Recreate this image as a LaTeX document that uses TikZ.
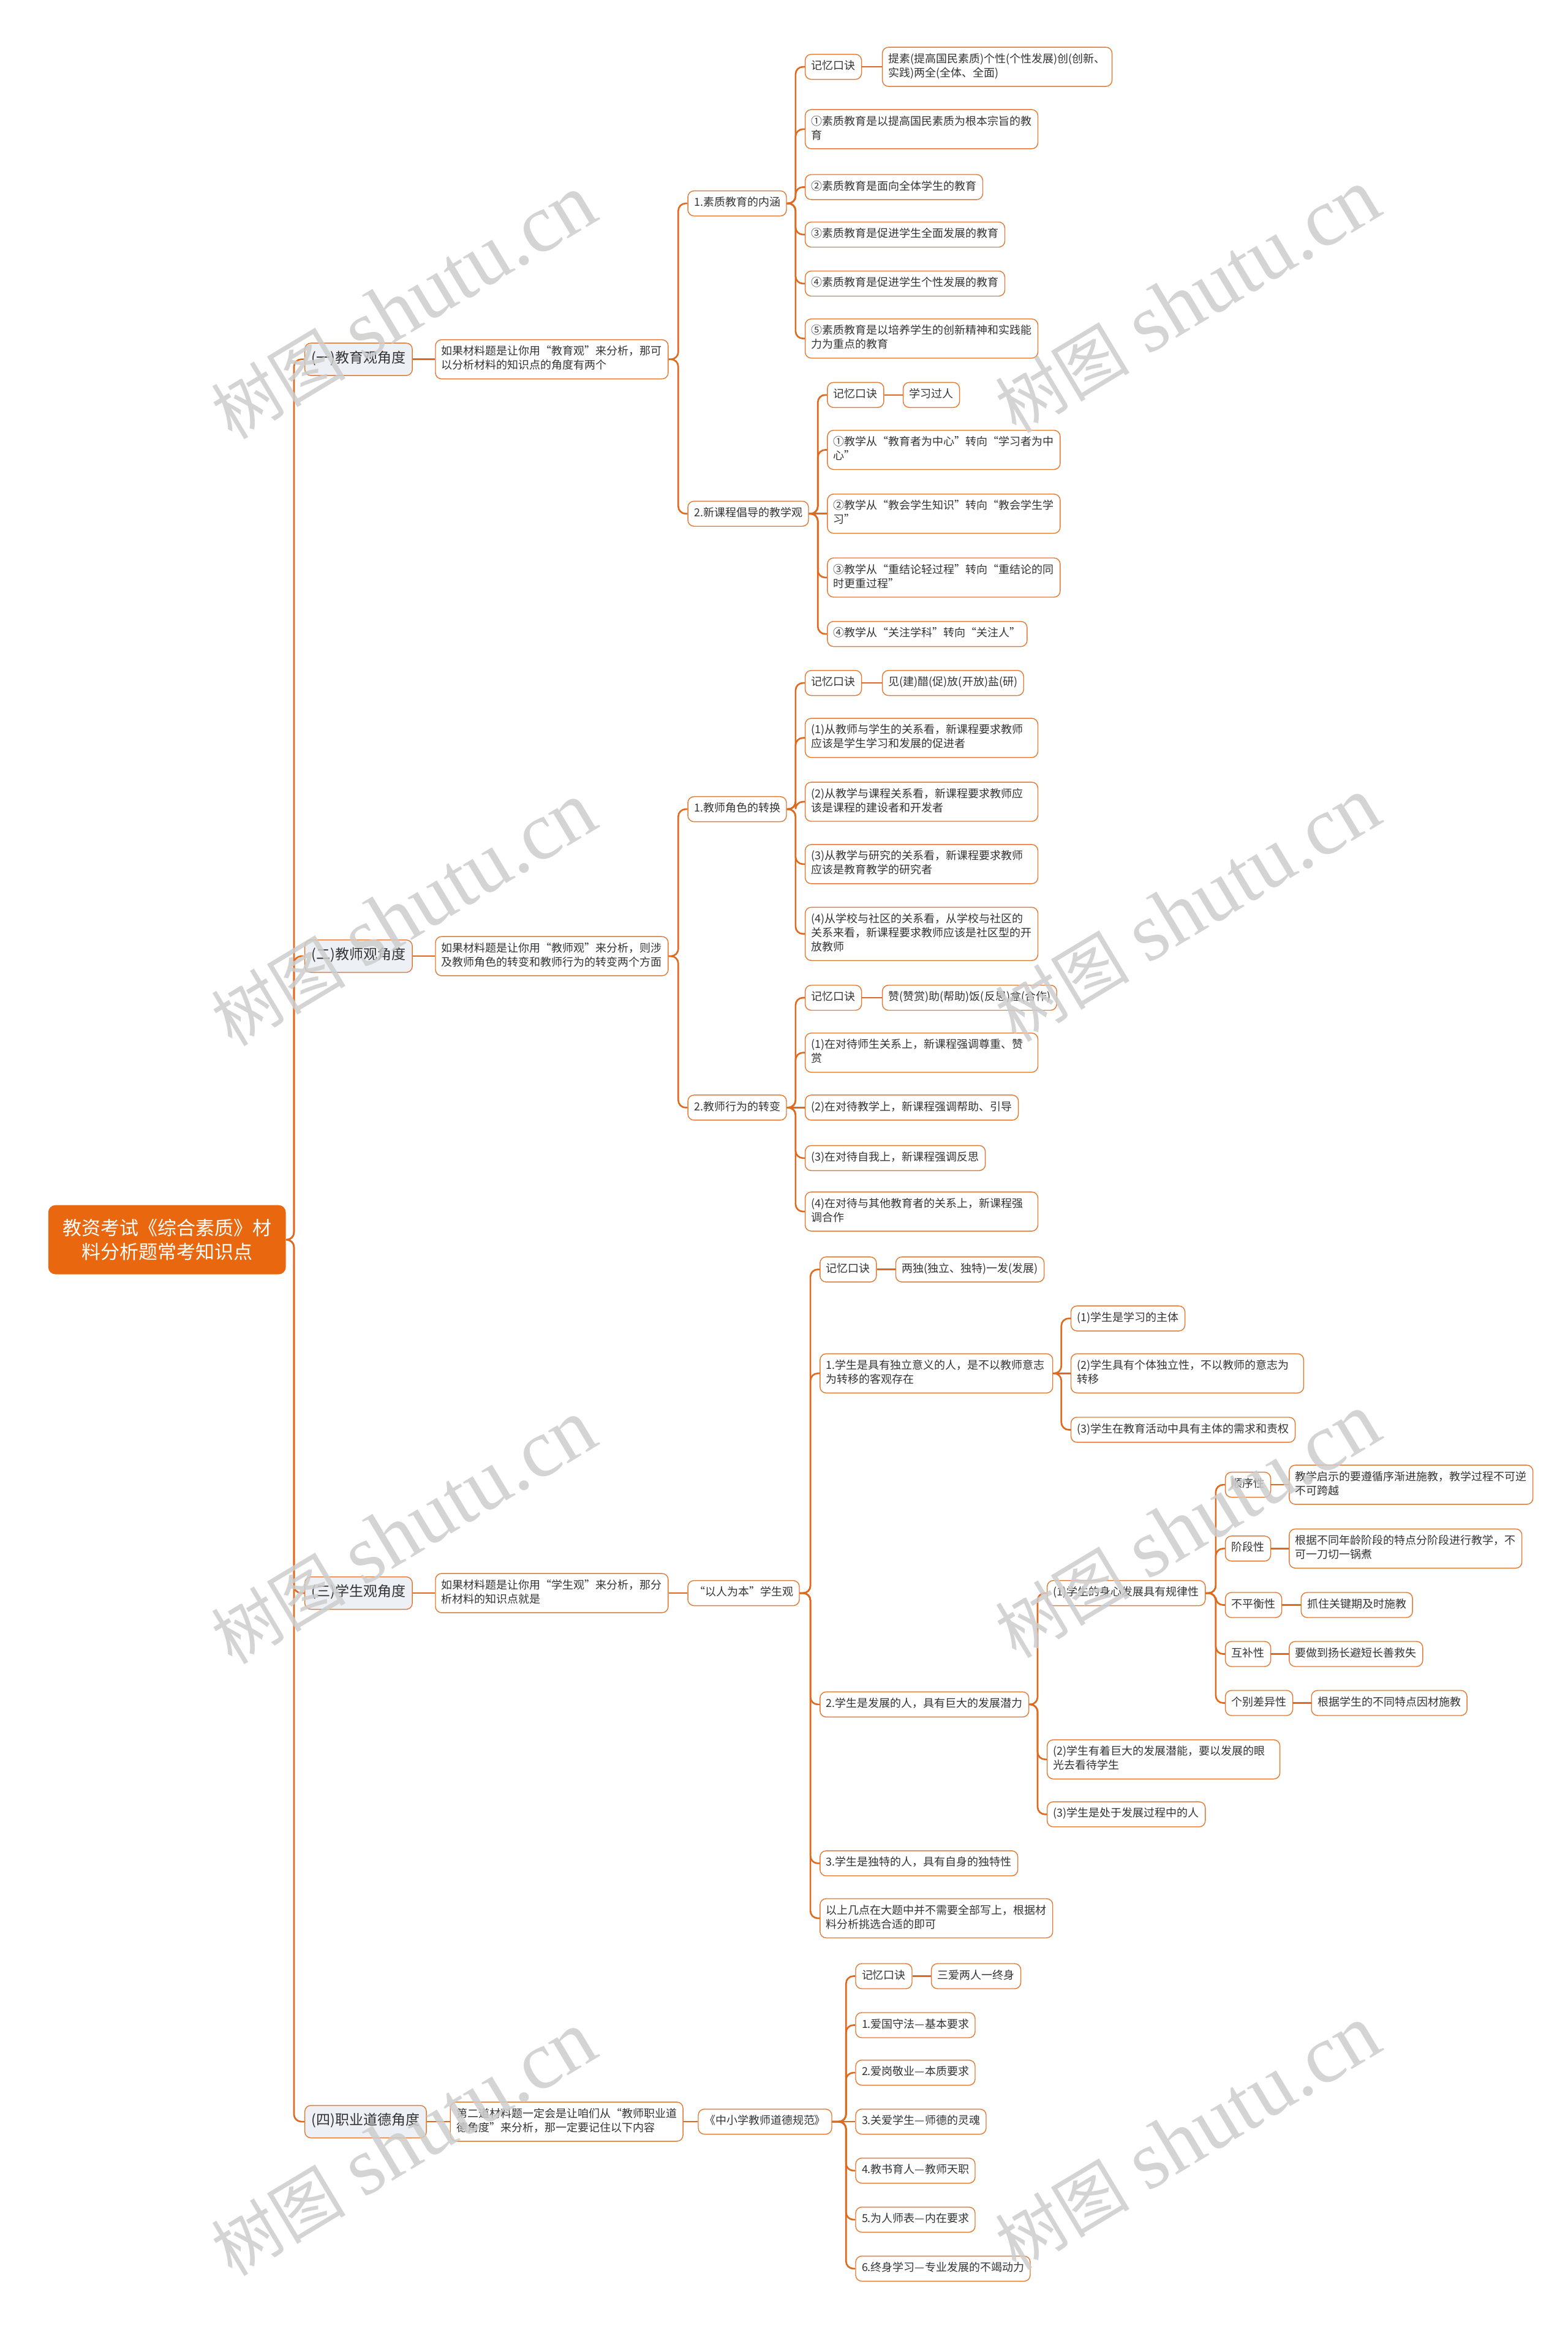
\documentclass[tikz,border=0pt]{standalone}
\usepackage{fontspec}
\setmainfont{Noto Sans CJK SC}
\newfontfamily\wmlat{Liberation Serif}
\usetikzlibrary{calc}
\definecolor{oline}{HTML}{E0691D}
\definecolor{obord}{HTML}{E27A36}
\definecolor{rootfill}{HTML}{E9670E}
\definecolor{lonefill}{HTML}{EDF0F4}
\definecolor{txt}{HTML}{333333}
\definecolor{wmc}{HTML}{CDCDCD}
\newcommand\fsA{\fontsize{0.18cm}{0.23cm}\selectfont}
\newcommand\fsB{\fontsize{0.23cm}{0.29cm}\selectfont}
\newcommand\fsR{\fontsize{0.31cm}{0.39cm}\selectfont}
\newcommand\lnk[2]{\draw[conn] (#1.east) -| ([xshift=-0.15cm]#2.west) -- (#2.west);}
\newcommand\lnks[2]{\draw[conn] (#1.east) -- (#2.west);}
\tikzset{
  box/.style={draw=obord, line width=0.4pt, rounded corners=0.1cm, fill=white, text=txt,
    font=\fsA, inner xsep=0.1cm, inner ysep=0.09cm, anchor=west, align=left,
    execute at begin node=\strut, execute at end node=\strut},
  wide/.style={text width=3.6cm},
  lone/.style={draw=obord, line width=0.4pt, rounded corners=0.1cm, fill=lonefill, text=txt,
    font=\fsB, inner xsep=0.11cm, inner ysep=0.12cm, anchor=west,
    execute at begin node=\strut},
  rootbox/.style={fill=rootfill, rounded corners=0.12cm, text=white, font=\fsR,
    minimum width=3.88cm, minimum height=1.13cm, align=center},
  conn/.style={draw=oline, line width=0.75pt, rounded corners=0.12cm},
  wmark/.style={text=wmc, opacity=0.85, rotate=31, inner sep=0pt}
}
\begin{document}
\begin{tikzpicture}[x=0.024242cm, y=-0.024242cm]
\useasboundingbox (0,0) rectangle (1056,1568);
% root
\node[rootbox] (root) at (112.5,835) {教资考试《综合素质》材\\料分析题常考知识点};
% level 1
\node[lone] (A) at (205,242) {(一)教育观角度};
\node[lone] (B) at (205,644) {(二)教师观角度};
\node[lone] (C) at (205,1073) {(三)学生观角度};
\node[lone] (D) at (205,1429) {(四)职业道德角度};
% descriptions
\node[box,wide] (Ad) at (293,242) {如果材料题是让你用“教育观”来分析，那可\\以分析材料的知识点的角度有两个};
\node[box,wide] (Bd) at (293,644) {如果材料题是让你用“教师观”来分析，则涉\\及教师角色的转变和教师行为的转变两个方面};
\node[box,wide] (Cd) at (293,1073) {如果材料题是让你用“学生观”来分析，那分\\析材料的知识点就是};
\node[box,wide] (Dd) at (303,1429) {第二道材料题一定会是让咱们从“教师职业道\\德角度”来分析，那一定要记住以下内容};
% branch A
\node[box] (A1) at (463,137) {1.素质教育的内涵};
\node[box] (A2) at (463,346) {2.新课程倡导的教学观};
\node[box] (A1m) at (542,45) {记忆口诀};
\node[box,text width=3.55cm] (A1mt) at (594,45) {提素(提高国民素质)个性(个性发展)创(创新、\\实践)两全(全体、全面)};
\node[box,wide] (A1a) at (542,87) {①素质教育是以提高国民素质为根本宗旨的教\\育};
\node[box] (A1b) at (542,126) {②素质教育是面向全体学生的教育};
\node[box] (A1c) at (542,158) {③素质教育是促进学生全面发展的教育};
\node[box] (A1d) at (542,191) {④素质教育是促进学生个性发展的教育};
\node[box,wide] (A1e) at (542,228) {⑤素质教育是以培养学生的创新精神和实践能\\力为重点的教育};
\node[box] (A2m) at (557,266) {记忆口诀};
\node[box] (A2mt) at (608,266) {学习过人};
\node[box,wide] (A2a) at (557,303) {①教学从“教育者为中心”转向“学习者为中\\心”};
\node[box,wide] (A2b) at (557,346) {②教学从“教会学生知识”转向“教会学生学\\习”};
\node[box,wide] (A2c) at (557,389) {③教学从“重结论轻过程”转向“重结论的同\\时更重过程”};
\node[box] (A2d) at (557,427) {④教学从“关注学科”转向“关注人”};
% branch B
\node[box] (B1) at (463,545) {1.教师角色的转换};
\node[box] (B2) at (463,746) {2.教师行为的转变};
\node[box] (B1m) at (542,460) {记忆口诀};
\node[box] (B1mt) at (594,460) {见(建)醋(促)放(开放)盐(研)};
\node[box,wide] (B1a) at (542,497) {(1)从教师与学生的关系看，新课程要求教师\\应该是学生学习和发展的促进者};
\node[box,wide] (B1b) at (542,540) {(2)从教学与课程关系看，新课程要求教师应\\该是课程的建设者和开发者};
\node[box,wide] (B1c) at (542,582) {(3)从教学与研究的关系看，新课程要求教师\\应该是教育教学的研究者};
\node[box,wide] (B1d) at (542,629) {(4)从学校与社区的关系看，从学校与社区的\\关系来看，新课程要求教师应该是社区型的开\\放教师};
\node[box] (B2m) at (542,672) {记忆口诀};
\node[box] (B2mt) at (594,672) {赞(赞赏)助(帮助)饭(反思)盒(合作)};
\node[box,wide] (B2a) at (542,709) {(1)在对待师生关系上，新课程强调尊重、赞\\赏};
\node[box] (B2b) at (542,746) {(2)在对待教学上，新课程强调帮助、引导};
\node[box] (B2c) at (542,780) {(3)在对待自我上，新课程强调反思};
\node[box,wide] (B2d) at (542,816) {(4)在对待与其他教育者的关系上，新课程强\\调合作};
% branch C
\node[box] (Cx) at (463,1073) {“以人为本”学生观};
\node[box] (Cm) at (552,855) {记忆口诀};
\node[box] (Cmt) at (603,855) {两独(独立、独特)一发(发展)};
\node[box,wide] (C1) at (552,925) {1.学生是具有独立意义的人，是不以教师意志\\为转移的客观存在};
\node[box] (C2) at (552,1148) {2.学生是发展的人，具有巨大的发展潜力};
\node[box] (C3) at (552,1255) {3.学生是独特的人，具有自身的独特性};
\node[box,wide] (C4) at (552,1292) {以上几点在大题中并不需要全部写上，根据材\\料分析挑选合适的即可};
\node[box] (C1a) at (721,888) {(1)学生是学习的主体};
\node[box,wide] (C1b) at (721,925) {(2)学生具有个体独立性，不以教师的意志为\\转移};
\node[box] (C1c) at (721,963) {(3)学生在教育活动中具有主体的需求和责权};
\node[box] (C2a) at (705,1073) {(1)学生的身心发展具有规律性};
\node[box,wide] (C2b) at (705,1185) {(2)学生有着巨大的发展潜能，要以发展的眼\\光去看待学生};
\node[box] (C2c) at (705,1222) {(3)学生是处于发展过程中的人};
\node[box] (S1) at (825,1000) {顺序性};
\node[box,text width=3.78cm] (S1t) at (868,1000) {教学启示的要遵循序渐进施教，教学过程不可逆\\不可跨越};
\node[box] (S2) at (825,1043) {阶段性};
\node[box,wide] (S2t) at (868,1043) {根据不同年龄阶段的特点分阶段进行教学，不\\可一刀切一锅煮};
\node[box] (S3) at (825,1081) {不平衡性};
\node[box] (S3t) at (876,1081) {抓住关键期及时施教};
\node[box] (S4) at (825,1114) {互补性};
\node[box] (S4t) at (868,1114) {要做到扬长避短长善救失};
\node[box] (S5) at (825,1147) {个别差异性};
\node[box] (S5t) at (883,1147) {根据学生的不同特点因材施教};
% branch D
\node[box] (Dx) at (470,1429) {《中小学教师道德规范》};
\node[box] (Dm) at (576,1331) {记忆口诀};
\node[box] (Dmt) at (627,1331) {三爱两人一终身};
\node[box] (D1) at (576,1364) {1.爱国守法—基本要求};
\node[box] (D2) at (576,1396) {2.爱岗敬业—本质要求};
\node[box] (D3) at (576,1429) {3.关爱学生—师德的灵魂};
\node[box] (D4) at (576,1462) {4.教书育人—教师天职};
\node[box] (D5) at (576,1495) {5.为人师表—内在要求};
\node[box] (D6) at (576,1528) {6.终身学习—专业发展的不竭动力};
% connectors
\foreach \n in {A,B,C,D} {\draw[conn] (root.east) -| ([xshift=-0.17cm]\n.west) -- (\n.west);}
\lnks{A}{Ad} \lnks{B}{Bd} \lnks{C}{Cd} \lnks{D}{Dd}
\lnk{Ad}{A1} \lnk{Ad}{A2}
\foreach \n in {A1m,A1a,A1b,A1c,A1d,A1e} {\lnk{A1}{\n}}
\lnks{A1m}{A1mt}
\foreach \n in {A2m,A2a,A2c,A2d} {\lnk{A2}{\n}}
\lnks{A2}{A2b} \lnks{A2m}{A2mt}
\lnk{Bd}{B1} \lnk{Bd}{B2}
\foreach \n in {B1m,B1a,B1b,B1c,B1d} {\lnk{B1}{\n}}
\lnks{B1m}{B1mt}
\foreach \n in {B2m,B2a,B2c,B2d} {\lnk{B2}{\n}}
\lnks{B2}{B2b} \lnks{B2m}{B2mt}
\lnks{Cd}{Cx}
\foreach \n in {Cm,C1,C2,C3,C4} {\lnk{Cx}{\n}}
\lnks{Cm}{Cmt}
\lnk{C1}{C1a} \lnks{C1}{C1b} \lnk{C1}{C1c}
\foreach \n in {C2a,C2b,C2c} {\lnk{C2}{\n}}
\foreach \n in {S1,S2,S3,S4,S5} {\lnk{C2a}{\n}}
\lnks{S1}{S1t} \lnks{S2}{S2t} \lnks{S3}{S3t} \lnks{S4}{S4t} \lnks{S5}{S5t}
\lnks{Dd}{Dx}
\foreach \n in {Dm,D1,D2,D4,D5,D6} {\lnk{Dx}{\n}}
\lnks{Dx}{D3} \lnks{Dm}{Dmt}
% watermarks
\foreach \px/\py in {272/207,272/616,272/1032,272/1444,800/203,800/613,800/1028,800/1440} {
  \node[wmark] (wm-\px-\py) at (\px,\py) {\fontsize{1.1cm}{1.2cm}\selectfont 树图\hspace{0.3cm}{\wmlat\fontsize{1.35cm}{1.4cm}\selectfont shutu.cn}};
}
\end{tikzpicture}
\end{document}
